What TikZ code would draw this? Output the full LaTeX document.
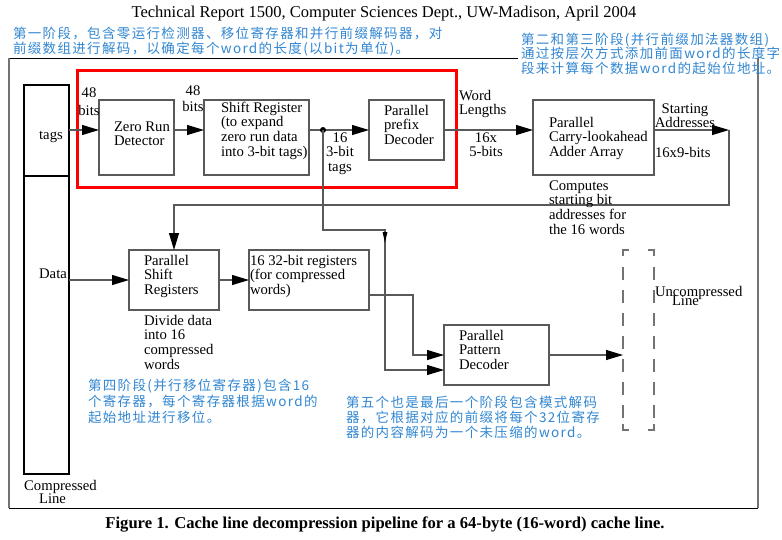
\documentclass[tikz,border=0pt]{standalone}
\usepackage{fontspec}
\setmainfont{Liberation Serif}
\newfontfamily\cjk[LetterSpace=10]{Noto Sans CJK SC}
\usetikzlibrary{arrows.meta}
\definecolor{note}{RGB}{50,135,210}
\definecolor{ln}{gray}{0.35}
\newcommand\stk[1]{\vtop{\halign{##\hfil\cr#1\crcr}}}
\newcommand\stkc[1]{\vtop{\halign{\hfil##\hfil\cr#1\crcr}}}
\begin{document}
\begin{tikzpicture}[x=1pt,y=-1pt,
  box/.style={draw=ln, line width=1.1pt, inner sep=0pt, outer sep=0pt, anchor=north west},
  lbl/.style={inner sep=0pt, outer sep=0pt, anchor=base west, font=\fontsize{14.7}{14.9}\selectfont},
  lblc/.style={lbl, anchor=base},
  cn/.style={inner sep=0pt, outer sep=0pt, anchor=base west, text=note, font=\cjk\fontsize{13.5}{15.5}\selectfont},
  wire/.style={draw=ln, line width=1.1pt},
  arr/.style={wire, -{Triangle[length=17pt,width=10pt,color=black]}},
  tarr/.style={wire, -{Triangle[length=11pt,width=4.5pt,color=black]}},
  dsh/.style={draw=black!55, line width=1.2pt}
]
\useasboundingbox (0,0) rectangle (782,539);
\fill[white] (0,0) rectangle (782,539);

% outer frame
\draw[line width=1pt] (9,58) -- (518,58);
\draw[draw=black!55, line width=1.6pt] (9,58) -- (9,508);
\draw[line width=1pt] (9,508) -- (758,508);
\draw[draw=black!55, line width=1.6pt] (758,58) -- (758,508);

% red stage box
\node[box, draw=red, line width=3pt, minimum width=379pt, minimum height=117pt] (stage) at (77.5,70.7) {};

% compressed line
\node[box, draw=black, line width=1.8pt, minimum width=45pt, minimum height=91pt] (tagsbox) at (24,85) {};
\node[box, draw=black, line width=1.8pt, minimum width=45pt, minimum height=298pt] (databox) at (24,176) {};

% boxes
\node[box, minimum width=75pt, minimum height=75pt] (zrd) at (99,100) {};
\node[box, minimum width=105pt, minimum height=75pt] (sr) at (204,100) {};
\node[box, minimum width=75pt, minimum height=60pt] (ppd) at (369,100) {};
\node[box, minimum width=121pt, minimum height=75pt] (cla) at (533,100) {};
\node[box, minimum width=90pt, minimum height=60pt] (psr) at (129,250) {};
\node[box, minimum width=120pt, minimum height=60pt] (reg) at (249,250) {};
\node[box, minimum width=105pt, minimum height=60pt] (pat) at (444,325) {};
\node[anchor=north west, inner sep=0pt, outer sep=0pt, minimum width=31pt, minimum height=180pt] (ucl) at (623,250) {};

% uncompressed line (dashed)
\draw[dsh] (623,256) -- (623,250) -- (629,250);
\draw[dsh] (648,250) -- (654,250) -- (654,256);
\draw[dsh] (623,424) -- (623,430) -- (629,430);
\draw[dsh] (648,430) -- (654,430) -- (654,424);
\draw[dsh, dash pattern=on 13pt off 10pt] (623,267) -- (623,418);
\draw[dsh, dash pattern=on 13pt off 10pt] (654,267) -- (654,418);

% level coordinates
\coordinate (r1) at (0,130);
\coordinate (ret) at (0,205);
\coordinate (sa) at (729,130);
\coordinate (j) at (323,130);
\coordinate (b1) at (385,230);
\coordinate (lv370) at (0,370);
\coordinate (lv295) at (0,295);
\coordinate (b2) at (413,295);

% connectors
\draw[arr] (tagsbox.east |- r1) -- (zrd.west |- r1);
\draw[arr] (zrd.east |- r1) -- (sr.west |- r1);
\draw[arr] (sr.east |- r1) -- (ppd.west |- r1);
\draw[arr] (ppd.east |- r1) -- (cla.west |- r1);
\draw[arr] (cla.east |- r1) -- (sa);
\draw[arr] (sa) -- (sa |- ret) -- (psr.north |- ret) -- (psr.north);
\draw[arr] (databox.east |- psr.west) -- (psr.west);
\draw[arr] (psr.east) -- (reg.west);
\fill (j) circle (3pt);
\draw[arr] (j) -- (j |- b1) -- (b1) -- (b1 |- lv370) -- (pat.west |- lv370);
\draw[tarr] (b1) -- ++(0,13);
\draw[arr] (reg.east |- lv295) -- (b2) -- (b2 |- pat.west) -- (pat.west);
\draw[arr] (pat.east) -- (ucl.west |- pat.east);

% labels
\node[lblc, font=\fontsize{16.5}{18}\selectfont] (title) at (384,17) {Technical Report 1500, Computer Sciences Dept., UW-Madison, April 2004};
\node[lblc] (tagst) at (51,139) {tags};
\node[lblc] (datat) at (53,278) {Data};
\node[lblc] (b48a) at (89,97) {\baselineskip=18pt\stkc{48\cr bits}};
\node[lblc] (b48b) at (193,95) {\baselineskip=16pt\stkc{48\cr bits}};
\node[lbl] (zrdt) at (114,131) {\stk{Zero Run\cr Detector}};
\node[lbl] (srt) at (221,112) {\stk{Shift Register\cr (to expand\cr zero run data\cr into 3-bit tags)}};
\node[lbl] (ppdt) at (384,115) {\stk{Parallel\cr prefix\cr Decoder}};
\node[lblc] (tagw) at (340,142) {\stkc{16\cr 3-bit\cr tags}};
\node[lbl] (wl) at (459,100) {\stk{Word\cr Lengths}};
\node[lblc] (wlw) at (486,142) {\stkc{16x\cr 5-bits}};
\node[lbl] (clat) at (549,127) {\stk{Parallel\cr Carry-lookahead\cr Adder Array}};
\node[lblc] (sat) at (685,113) {\stkc{Starting\cr Addresses}};
\node[lbl] (saw) at (655,157) {16x9-bits};
\node[lbl] (comp) at (549,190) {\stk{Computes\cr starting bit\cr addresses for\cr the 16 words}};
\node[lbl] (psrt) at (144,265) {\stk{Parallel\cr Shift\cr Registers}};
\node[lbl] (divt) at (144,325) {\stk{Divide data\cr into 16\cr compressed\cr words}};
\node[lbl] (regt) at (250,265) {\stk{16 32-bit registers\cr (for compressed\cr words)}};
\node[lbl] (patt) at (459,340) {\stk{Parallel\cr Pattern\cr Decoder}};
\node[lbl] (uclt1) at (655,296) {Uncompressed};
\node[lbl] (uclt2) at (672,305) {Line};
\node[lblc] (clt1) at (60.5,490) {Compressed};
\node[lblc] (clt2) at (52.5,503) {Line};
\node[lblc, font=\bfseries\fontsize{16.6}{18}\selectfont] (cap) at (385,528) {Figure 1. Cache line decompression pipeline for a 64-byte (16-word) cache line.};

% notes
\node[cn] (n1) at (13,38) {\stk{第一阶段，包含零运行检测器、移位寄存器和并行前缀解码器，对\cr 前缀数组进行解码，以确定每个word的长度(以bit为单位)。}};
\node[cn] (n2) at (521,44) {\baselineskip=14.5pt\stk{第二和第三阶段(并行前缀加法器数组)\cr 通过按层次方式添加前面word的长度字\cr 段来计算每个数据word的起始位地址。}};
\node[cn] (n3) at (88,390) {\baselineskip=16pt\stk{第四阶段(并行移位寄存器)包含16\cr 个寄存器，每个寄存器根据word的\cr 起始地址进行移位。}};
\node[cn] (n4) at (346,407) {\baselineskip=15pt\stk{第五个也是最后一个阶段包含模式解码\cr 器，它根据对应的前缀将每个32位寄存\cr 器的内容解码为一个未压缩的word。}};
\end{tikzpicture}
\end{document}
